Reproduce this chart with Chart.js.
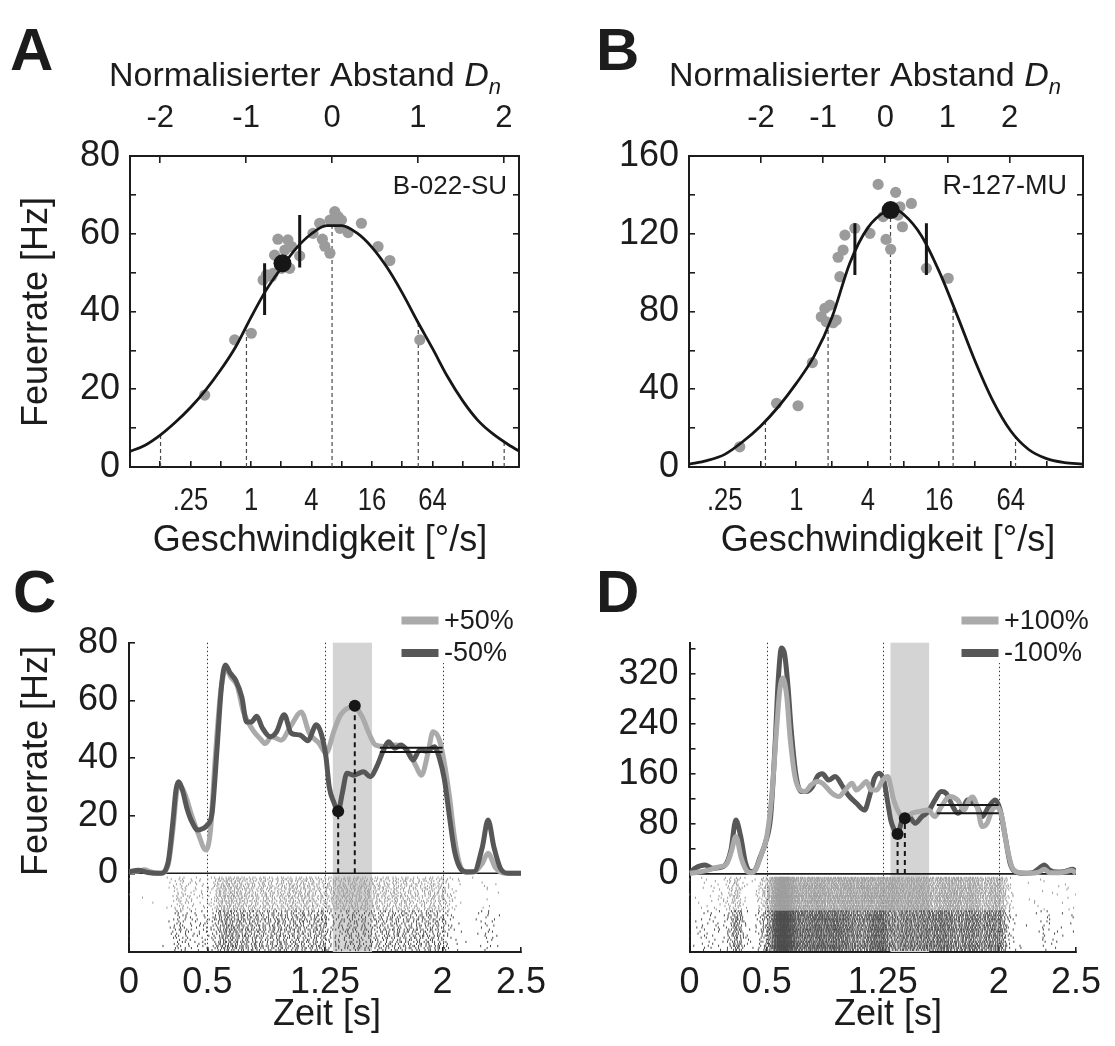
<!DOCTYPE html>
<html>
<head>
<meta charset="utf-8">
<script src="https://cdn.jsdelivr.net/npm/chart.js@4.4.1/dist/chart.umd.min.js"></script>
<style>
  html, body { margin: 0; padding: 0; background: #ffffff; }
  #fig { position: relative; width: 1115px; height: 1046px; overflow: hidden; background: #ffffff; }
  #fig canvas { position: absolute; }
</style>
</head>
<body>
<div id="fig">
  <canvas id="panelA" width="560" height="560" style="left:0px;top:0px"></canvas>
  <canvas id="panelB" width="555" height="560" style="left:560px;top:0px"></canvas>
  <canvas id="panelC" width="560" height="486" style="left:0px;top:560px"></canvas>
  <canvas id="panelD" width="555" height="486" style="left:560px;top:560px"></canvas>
</div>
<script>
// ---------------- Panel A: unit B-022-SU (speed as log2 deg/s) ----------------
const unitA = 'B-022-SU';
const trialOctA  = [-1.53, -0.54, 0.01, 0.40, 0.51, 0.73, 0.78, 0.89, 0.95, 1.12, 1.22, 1.28, 1.34, 1.61, 2.05, 2.27,
                    2.36, 2.44, 2.61, 2.61, 2.77, 2.83, 2.94, 2.99, 3.21, 3.65, 4.20, 4.59, 5.58, 2.88, 1.01, 0.68];
const trialRateA = [18.5, 32.7, 34.4, 48.1, 49.4, 49.8, 54.5, 58.6, 52.4, 55.8, 58.4, 51.1, 56.7, 54.3, 60.1, 62.7,
                    58.6, 56.8, 55.0, 63.5, 65.7, 63.1, 61.4, 63.5, 60.3, 62.7, 56.7, 53.1, 32.7, 64.4, 51.1, 49.0];
const fitOctA  = [-4, -3.5, -3, -2.5, -2, -1.5, -1, -0.5, 0, 0.5, 1, 1.5, 2, 2.5, 3, 3.5, 4, 4.5, 5, 5.5, 6, 6.5, 7, 7.5, 8, 8.5, 9];
const fitRateA = [4.0, 5.6, 8.2, 11.5, 15.3, 19.8, 25.0, 31.0, 38.5, 45.5, 51.2, 56.3, 60.0, 62.1, 62.1, 60.2, 56.5, 51.3,
                  44.8, 37.5, 30.5, 23.2, 17.0, 12.0, 8.5, 5.8, 3.5];
const dashOctA = [-2.99, -0.15, 2.68, 5.53, 8.37];
const dashTopA = [8.3, 36.5, 62.2, 37.3, 6.6];
const barOctA  = [0.45, 1.61];
const barLowA  = [39.1, 51.3];
const barHighA = [52.4, 64.8];
const prefOctA  = [1.04];
const prefRateA = [52.4];
const dnZeroOctA = 2.68, octPerDnA = 2.84;
const octMinA = -4, octMaxA = 8.86;

// ---------------- Panel B: unit R-127-MU ----------------
const unitB = 'R-127-MU';
const trialOctB  = [-1.58, -0.55, 0.05, 0.45, 0.70, 0.80, 0.94, 0.84, 1.03, 1.12, 1.22, 1.17, 1.31, 1.36, 1.64, 2.06,
                    2.29, 2.43, 2.51, 2.64, 2.78, 2.90, 2.85, 2.97, 3.22, 3.64, 4.25];
const trialRateB = [10.4, 32.8, 31.5, 53.7, 77.3, 81.6, 83.3, 74.7, 74.2, 75.6, 97.9, 107.9, 111.6, 119.3, 122.8, 120.2,
                    145.4, 128.8, 117.1, 112.0, 141.3, 133.9, 129.6, 123.6, 135.6, 102.2, 97.1];
const fitOctB  = [-3, -2.5, -2, -1.5, -1, -0.5, 0, 0.5, 1, 1.5, 2, 2.5, 2.75, 3, 3.5, 4, 4.5, 5, 5.5, 6, 6.5, 7, 7.5, 8];
const fitRateB = [1.5, 3.3, 6.5, 13.0, 21.0, 31.0, 43.0, 57.0, 77.0, 105.0, 123.0, 131.5, 132.5, 130.0, 119.0, 100.5,
                  78.0, 54.5, 34.0, 18.5, 9.0, 4.3, 2.3, 1.5];
const dashOctB = [-0.862, 0.89, 2.636, 4.387, 6.133];
const dashTopB = [23.5, 73.5, 132.5, 83.0, 16.0];
const barOctB  = [1.64, 3.64];
const barLowB  = [98.8, 98.8];
const barHighB = [125.4, 125.4];
const prefOctB  = [2.64];
const prefRateB = [132.2];
const dnZeroOctB = 2.49, octPerDnB = 1.739;
const octMinB = -3, octMaxB = 8.02;

// speed tick labels (log2 deg/s -> label)
const speedTickOct = [-2, 0, 2, 4, 6];
const speedTickText = ['.25', '1', '4', '16', '64'];
const dnTicks = [-2, -1, 0, 1, 2];

// ---------------- Panel C: +50% / -50% ----------------
const labelsC = ['+50%', '-50%'];
const tPlusC = [0, 0.06, 0.10, 0.14, 0.20, 0.25, 0.28, 0.31, 0.33, 0.363, 0.40, 0.44, 0.49, 0.52, 0.55, 0.585, 0.62, 0.65,
                0.69, 0.73, 0.79, 0.84, 0.868, 0.91, 0.97, 1.035, 1.098, 1.15, 1.214, 1.256, 1.309, 1.35, 1.435, 1.487,
                1.53, 1.571, 1.624, 1.70, 1.75, 1.79, 1.832, 1.865, 1.907, 1.939, 1.98, 2.012, 2.044, 2.075, 2.107,
                2.15, 2.20, 2.254, 2.29, 2.336, 2.40, 2.5];
const rPlusC = [0.5, 0.8, 1.2, 0.5, 0, 3, 15, 29.5, 30, 26.6, 20, 14, 8.1, 15, 40, 63, 71, 68, 65, 56, 49.7, 46.5, 45,
                47.4, 46.2, 51.4, 56, 48.6, 45, 41.6, 49.7, 55, 57.8, 54.3, 48.6, 44.5, 44, 44.5, 44, 41.6, 37, 34, 41.7,
                49.1, 46.2, 38, 26.6, 12.7, 3.5, 0.3, 0.5, 3.5, 7, 2, 0, 0];
const tMinusC = [0, 0.06, 0.12, 0.20, 0.25, 0.28, 0.30, 0.315, 0.34, 0.37, 0.40, 0.44, 0.47, 0.50, 0.53, 0.56, 0.59, 0.615,
                 0.645, 0.68, 0.72, 0.75, 0.78, 0.815, 0.85, 0.90, 0.94, 0.99, 1.035, 1.09, 1.14, 1.195, 1.225, 1.256,
                 1.277, 1.309, 1.334, 1.36, 1.39, 1.435, 1.465, 1.496, 1.539, 1.58, 1.624, 1.655, 1.697, 1.735, 1.77,
                 1.812, 1.854, 1.90, 1.948, 1.98, 2.012, 2.044, 2.075, 2.107, 2.15, 2.20, 2.254, 2.29, 2.327, 2.369,
                 2.42, 2.5];
const rMinusC = [0.5, 1.1, 0.3, 0, 4, 18, 29, 31.8, 29, 22.5, 18, 15, 15.5, 16.8, 21, 42, 65, 72.3, 69.5, 67, 61, 52.5,
                 52.5, 54.5, 50.5, 47.4, 49, 55, 48.6, 48, 46, 51.5, 48.6, 40.5, 30, 24.3, 21.5, 27.7, 34.7, 34, 34.7,
                 35.2, 33.5, 37, 42.8, 45.6, 43.4, 44.5, 42.8, 39.3, 42.8, 42.4, 43.9, 39.9, 32.4, 19.6, 8.1, 2.3, 0.5,
                 0.5, 9.2, 18.5, 9.2, 1.7, 0, 0];
const meanSpanC = [1.6, 2.0];
const meanPlusC = 43.6, meanMinusC = 42.1;
const markPlusC = { t: 1.44, r: 58.1 };
const markMinusC = { t: 1.334, r: 21.5 };

// ---------------- Panel D: +100% / -100% ----------------
const labelsD = ['+100%', '-100%'];
const tPlusD = [0, 0.06, 0.12, 0.183, 0.24, 0.27, 0.30, 0.335, 0.37, 0.40, 0.43, 0.47, 0.50, 0.532, 0.563, 0.584, 0.604,
                0.629, 0.65, 0.682, 0.714, 0.745, 0.788, 0.827, 0.86, 0.922, 0.966, 1.009, 1.051, 1.08, 1.11, 1.144,
                1.175, 1.21, 1.25, 1.282, 1.302, 1.315, 1.357, 1.393, 1.439, 1.49, 1.545, 1.587, 1.629, 1.682, 1.735,
                1.777, 1.808, 1.83, 1.861, 1.893, 1.925, 1.957, 1.989, 2.02, 2.053, 2.085, 2.12, 2.2, 2.26, 2.294, 2.33,
                2.40, 2.474, 2.5];
const rPlusD = [1, 3, 6, 10.7, 16, 35, 60, 25, 5, 2, 8, 35, 60, 124, 230, 294, 313, 283.7, 219.7, 155.7, 134.4, 131.7,
                142.4, 147.7, 145, 129, 123.7, 134.4, 145, 134, 139.7, 147.7, 134, 134, 150, 155.7, 139.7, 123.7, 97, 89,
                97, 100, 102, 91.7, 107.7, 123.7, 118, 102, 118, 123, 107.7, 75.7, 81, 102, 107.7, 91.7, 43.7, 11.7, 3, 1,
                3, 7.5, 2, 2, 5.3, 1];
const tMinusD = [0, 0.035, 0.10, 0.15, 0.225, 0.268, 0.30, 0.331, 0.363, 0.394, 0.42, 0.458, 0.49, 0.525, 0.553, 0.574,
                 0.595, 0.616, 0.637, 0.658, 0.69, 0.722, 0.755, 0.796, 0.827, 0.859, 0.901, 0.943, 0.985, 1.027, 1.08,
                 1.132, 1.164, 1.196, 1.227, 1.259, 1.285, 1.302, 1.325, 1.346, 1.376, 1.418, 1.46, 1.503, 1.545, 1.587,
                 1.629, 1.66, 1.703, 1.735, 1.77, 1.798, 1.83, 1.861, 1.893, 1.936, 1.978, 2.01, 2.042, 2.074, 2.105,
                 2.16, 2.22, 2.262, 2.294, 2.33, 2.38, 2.43, 2.48, 2.5];
const rMinusD = [1, 9, 14.4, 9, 12.8, 38, 86, 60, 17, 3.7, 5, 27.7, 49, 91.7, 203.7, 310, 361, 350, 300, 230, 155.7, 131.7,
                 131.7, 139.7, 155.7, 160, 150, 155.7, 142, 126, 113, 102, 123.7, 153, 161, 147.7, 110, 86, 70, 64, 86,
                 91.7, 81, 91.7, 99.7, 118, 131.7, 129, 107.7, 97, 105, 118, 115, 107.7, 91.7, 107.7, 118, 102, 60, 17,
                 3.7, 1, 2, 9, 14.4, 6, 3, 4, 7.5, 3];
const meanSpanD = [1.6, 2.0];
const meanPlusD = 97, meanMinusD = 110;
const markPlusD = { t: 1.393, r: 89 };
const markMinusD = { t: 1.346, r: 64 };

// shared time markers
const epochTimes = [0.5, 1.25, 2.0];
const probeWindow = [1.3, 1.55];
const timeTicks = [0, 0.5, 1.25, 2, 2.5];
const timeTickText = ['0', '0.5', '1.25', '2', '2.5'];

// ---------------- styling ----------------
const FONT = "'Liberation Sans', Arial, Helvetica, sans-serif";
const INK = '#1c1c1c';
const LIGHT = '#aaaaaa';
const DARK = '#575757';
const DOT_GRAY = '#9b9b9b';

Chart.defaults.font.family = FONT;
Chart.defaults.color = INK;

const pts = (xs, ys) => xs.map((x, i) => ({ x, y: ys[i] }));
const setTicks = vals => s => { s.ticks = vals.map(v => ({ value: v })); };
function segments(xs, lows, highs) {
  const out = [];
  xs.forEach((x, i) => { out.push({ x, y: lows[i] }, { x, y: highs[i] }, { x, y: null }); });
  return out;
}
function axisGrid(len) {
  return { display: true, drawOnChartArea: false, drawTicks: true, tickLength: len, color: INK, lineWidth: 1.6 };
}
const axisBorder = { display: true, color: INK, width: 2 };

// text drawing helper
function textPlugin(id, items) {
  return {
    id,
    afterDraw(chart) {
      const ctx = chart.ctx;
      items.forEach(it => {
        ctx.save();
        ctx.fillStyle = INK;
        if (it.parts) {
          let w = 0;
          it.parts.forEach(p => { ctx.font = p.font; w += ctx.measureText(p.text).width; });
          let x = it.x - w / 2;
          ctx.textBaseline = 'alphabetic';
          ctx.textAlign = 'left';
          it.parts.forEach(p => { ctx.font = p.font; ctx.fillText(p.text, x, it.y + (p.dy || 0)); x += ctx.measureText(p.text).width; });
        } else {
          ctx.font = it.font;
          ctx.textAlign = it.align || 'center';
          ctx.textBaseline = it.baseline || 'middle';
          ctx.translate(it.x, it.y);
          if (it.rotate) ctx.rotate(it.rotate);
          ctx.fillText(it.text, 0, 0);
        }
        ctx.restore();
      });
    }
  };
}

// condensed speed labels under the bottom axis, placed by the axis itself
const speedLabelPlugin = {
  id: 'speedLabels',
  afterDraw(chart) {
    const { ctx, scales: { x }, chartArea: a } = chart;
    ctx.save();
    ctx.fillStyle = INK;
    ctx.font = `32px ${FONT}`;
    ctx.textAlign = 'center';
    ctx.textBaseline = 'middle';
    speedTickOct.forEach((u, i) => {
      const px = x.getPixelForValue(u);
      ctx.save();
      ctx.translate(px, a.bottom + 34);
      ctx.scale(0.8, 1);
      ctx.fillText(speedTickText[i], 0, 0);
      ctx.restore();
    });
    ctx.restore();
  }
};

function dnTitle(cx) {
  return { x: cx, y: 86, parts: [
    { text: 'Normalisierter Abstand ', font: `34px ${FONT}` },
    { text: 'D', font: `italic 34px ${FONT}` },
    { text: 'n', font: `italic 22px ${FONT}`, dy: 8 }
  ] };
}

// ---------------- tuning curve panels ----------------
function tuningChart(canvasId, d) {
  const dnMin = (d.octMin - d.dnZero) / d.octPerDn;
  const dnMax = (d.octMax - d.dnZero) / d.octPerDn;
  return new Chart(document.getElementById(canvasId), {
    type: 'scatter',
    data: {
      datasets: [
        { type: 'scatter', data: pts(d.prefOct, d.prefRate), backgroundColor: '#161616', borderWidth: 0,
          pointRadius: 9, order: 0 },
        { type: 'line', data: segments(d.barOct, d.barLow, d.barHigh), borderColor: '#161616', borderWidth: 3,
          pointRadius: 0, tension: 0, spanGaps: false, order: 1 },
        { type: 'line', data: pts(d.fitOct, d.fitRate), borderColor: '#161616', borderWidth: 2.8,
          pointRadius: 0, cubicInterpolationMode: 'monotone', order: 2 },
        { type: 'scatter', data: pts(d.trialOct, d.trialRate), backgroundColor: DOT_GRAY, borderWidth: 0,
          pointRadius: 5.6, order: 3 },
        { type: 'line', data: segments(d.dashOct, d.dashOct.map(() => 0), d.dashTop), borderColor: '#4a4a4a',
          borderWidth: 1.2, borderDash: [4, 3], pointRadius: 0, tension: 0, spanGaps: false, order: 4 }
      ]
    },
    options: {
      responsive: false, animation: false, devicePixelRatio: 1, events: [],
      layout: { padding: 0 },
      plugins: { legend: { display: false }, tooltip: { enabled: false } },
      scales: {
        x: {
          type: 'linear', position: 'bottom', min: d.octMin, max: d.octMax,
          afterBuildTicks: setTicks(d.octTicks),
          afterFit: s => { s.height = d.bottomH; },
          grid: axisGrid(-6), border: axisBorder,
          ticks: { display: false }
        },
        xDn: {
          type: 'linear', position: 'top', min: dnMin, max: dnMax,
          afterBuildTicks: setTicks(dnTicks),
          afterFit: s => { s.height = 156; },
          grid: axisGrid(-7), border: axisBorder,
          ticks: { padding: 26, autoSkip: false, maxRotation: 0, color: INK, font: { size: 31 },
                   callback: v => String(v) }
        },
        y: {
          type: 'linear', position: 'left', min: 0, max: d.yMax,
          afterBuildTicks: setTicks(d.yMinor),
          afterFit: s => { s.width = d.leftW; },
          grid: axisGrid(-6), border: axisBorder,
          ticks: { padding: 16, autoSkip: false, color: INK, font: { size: 36 },
                   callback: v => (v % d.yLabelStep === 0 ? String(v) : '') }
        },
        yR: {
          type: 'linear', position: 'right', min: 0, max: d.yMax,
          afterBuildTicks: setTicks(d.yMinor),
          afterFit: s => { s.width = d.rightW; },
          grid: axisGrid(-6), border: axisBorder,
          ticks: { display: false }
        }
      }
    },
    plugins: [speedLabelPlugin, textPlugin('texts' + canvasId, d.texts)]
  });
}

tuningChart('panelA', {
  prefOct: prefOctA, prefRate: prefRateA, barOct: barOctA, barLow: barLowA, barHigh: barHighA,
  fitOct: fitOctA, fitRate: fitRateA, trialOct: trialOctA, trialRate: trialRateA,
  dashOct: dashOctA, dashTop: dashTopA,
  octMin: octMinA, octMax: octMaxA, dnZero: dnZeroOctA, octPerDn: octPerDnA,
  octTicks: [-3, -2, -1, 0, 1, 2, 3, 4, 5, 6, 7, 8],
  yMax: 80, yMinor: [0, 10, 20, 30, 40, 50, 60, 70, 80], yLabelStep: 20,
  leftW: 130, rightW: 41, bottomH: 93,
  texts: [
    { text: 'A', x: 10, y: 70, font: `bold 60px ${FONT}`, align: 'left', baseline: 'alphabetic' },
    dnTitle(305),
    { text: unitA, x: 507, y: 187, font: `26px ${FONT}`, align: 'right' },
    { text: 'Feuerrate [Hz]', x: 37, y: 312, font: `36px ${FONT}`, rotate: -Math.PI / 2 },
    { text: 'Geschwindigkeit [°/s]', x: 320, y: 541, font: `36px ${FONT}` }
  ]
});

tuningChart('panelB', {
  prefOct: prefOctB, prefRate: prefRateB, barOct: barOctB, barLow: barLowB, barHigh: barHighB,
  fitOct: fitOctB, fitRate: fitRateB, trialOct: trialOctB, trialRate: trialRateB,
  dashOct: dashOctB, dashTop: dashTopB,
  octMin: octMinB, octMax: octMaxB, dnZero: dnZeroOctB, octPerDn: octPerDnB,
  octTicks: [-2, -1, 0, 1, 2, 3, 4, 5, 6, 7],
  yMax: 160, yMinor: [0, 20, 40, 60, 80, 100, 120, 140, 160], yLabelStep: 40,
  leftW: 129, rightW: 32, bottomH: 93,
  texts: [
    { text: 'B', x: 36, y: 70, font: `bold 60px ${FONT}`, align: 'left', baseline: 'alphabetic' },
    dnTitle(305),
    { text: unitB, x: 507, y: 187, font: `27px ${FONT}`, align: 'right' },
    { text: 'Geschwindigkeit [°/s]', x: 328, y: 541, font: `36px ${FONT}` }
  ]
});

// ---------------- rate trace panels ----------------
function frac(v) { return v - Math.floor(v); }
function rateAt(ts, rs, t) {
  if (t <= ts[0]) return rs[0];
  for (let i = 1; i < ts.length; i++) {
    if (t <= ts[i]) { const f = (t - ts[i - 1]) / (ts[i] - ts[i - 1]); return rs[i - 1] + f * (rs[i] - rs[i - 1]); }
  }
  return rs[rs.length - 1];
}
// spike rows under each trace: every row follows that trace's rate, with its own phase
function spikeRows(ts, rs, nRows, yHi, yLo, phase) {
  const out = [];
  const step = 0.0005;
  for (let r = 0; r < nRows; r++) {
    const y = yHi - (r + 0.5) * (yHi - yLo) / nRows;
    const gain = 0.8 + 0.4 * frac((r + phase) * 0.618034);
    let acc = frac((r + phase) * 0.754878);
    let k = 0;
    let need = 0.35 + 1.3 * frac(r * 0.414214 + phase * 0.1);
    for (let t = 0; t <= 2.5; t += step) {
      acc += Math.max(0, rateAt(ts, rs, t)) * gain * step;
      if (acc >= need) {
        out.push({ x: t, y });
        acc -= need; k++;
        need = 0.35 + 1.3 * frac(k * 0.618034 + r * 0.414214 + phase * 0.1);
      }
    }
  }
  return out;
}

function bandPlugin(id) {
  return {
    id,
    beforeDatasetsDraw(chart) {
      const { ctx, chartArea: a, scales: { x } } = chart;
      ctx.save();
      ctx.fillStyle = '#d4d4d4';
      const x0 = x.getPixelForValue(probeWindow[0]), x1 = x.getPixelForValue(probeWindow[1]);
      ctx.fillRect(x0, a.top, x1 - x0, a.bottom - a.top);
      ctx.strokeStyle = '#3a3a3a';
      ctx.lineWidth = 1;
      ctx.setLineDash([1.5, 2.5]);
      epochTimes.forEach(t => {
        const px = Math.round(x.getPixelForValue(t)) + 0.5;
        ctx.beginPath(); ctx.moveTo(px, a.top); ctx.lineTo(px, a.bottom); ctx.stroke();
      });
      ctx.restore();
    }
  };
}

function legendPlugin(id) {
  return {
    id,
    afterDraw(chart) {
      const ctx = chart.ctx;
      const ds = chart.data.datasets.filter(d => d.legendSwatch);
      ctx.save();
      ctx.fillStyle = '#ffffff';
      ctx.fillRect(396, 42, 130, 61);
      ds.forEach((d, i) => {
        const cy = 60.5 + i * 32.5;
        ctx.fillStyle = d.borderColor;
        ctx.fillRect(401.5, cy - 4, 37, 8);
        ctx.fillStyle = INK;
        ctx.font = `27px ${FONT}`;
        ctx.textAlign = 'left';
        ctx.textBaseline = 'middle';
        ctx.fillText(d.label, 444, cy + 1);
      });
      ctx.restore();
    }
  };
}

function traceChart(canvasId, d) {
  const lightRows = spikeRows(d.tPlus, d.rPlus, 20, d.rowsLight[0], d.rowsLight[1], 0.3);
  const darkRows = spikeRows(d.tMinus, d.rMinus, 20, d.rowsDark[0], d.rowsDark[1], 0.7);
  const drops = segments([d.markMinus.t, d.markPlus.t], [0, 0], [d.markMinus.r, d.markPlus.r]);
  const means = [
    { x: d.meanSpan[0], y: d.meanPlus }, { x: d.meanSpan[1], y: d.meanPlus }, { x: d.meanSpan[1], y: null },
    { x: d.meanSpan[0], y: d.meanMinus }, { x: d.meanSpan[1], y: d.meanMinus }
  ];
  return new Chart(document.getElementById(canvasId), {
    type: 'scatter',
    data: {
      datasets: [
        { type: 'scatter', data: [{ x: d.markMinus.t, y: d.markMinus.r }, { x: d.markPlus.t, y: d.markPlus.r }],
          backgroundColor: '#161616', borderWidth: 0, pointRadius: 6, order: 0 },
        { type: 'line', data: drops, borderColor: '#161616', borderWidth: 2, borderDash: [5, 4], pointRadius: 0,
          tension: 0, spanGaps: false, order: 1 },
        { type: 'line', data: means, borderColor: '#161616', borderWidth: 2, pointRadius: 0, tension: 0,
          spanGaps: false, order: 2 },
        { type: 'line', label: d.labels[0], legendSwatch: true, data: pts(d.tPlus, d.rPlus), borderColor: LIGHT,
          borderWidth: 5, pointRadius: 0, cubicInterpolationMode: 'monotone', order: d.lightOnTop ? 3 : 4 },
        { type: 'line', label: d.labels[1], legendSwatch: true, data: pts(d.tMinus, d.rMinus), borderColor: DARK,
          borderWidth: 5, pointRadius: 0, cubicInterpolationMode: 'monotone', order: d.lightOnTop ? 4 : 3 },
        { type: 'line', data: [{ x: 0, y: 0 }, { x: 2.5, y: 0 }], borderColor: INK, borderWidth: 1.6,
          pointRadius: 0, order: 5 },
        { type: 'scatter', data: lightRows, pointStyle: 'line', pointRotation: 90, pointRadius: 1.1,
          borderColor: '#9d9d9d', pointBorderColor: '#9d9d9d', pointBorderWidth: 1, order: 6 },
        { type: 'scatter', data: darkRows, pointStyle: 'line', pointRotation: 90, pointRadius: 1.1,
          borderColor: '#4b4b4b', pointBorderColor: '#4b4b4b', pointBorderWidth: 1, order: 7 }
      ]
    },
    options: {
      responsive: false, animation: false, devicePixelRatio: 1, events: [],
      layout: { padding: { top: 82.7, right: d.rightPad, left: 0, bottom: 0 } },
      plugins: { legend: { display: false }, tooltip: { enabled: false } },
      scales: {
        x: {
          type: 'linear', position: 'bottom', min: 0, max: 2.5,
          afterBuildTicks: setTicks(timeTicks),
          afterFit: s => { s.height = 94; },
          grid: axisGrid(-5), border: axisBorder,
          ticks: { padding: 14, autoSkip: false, maxRotation: 0, color: INK, font: { size: 36 },
                   callback: v => { const i = timeTicks.indexOf(v); return i >= 0 ? timeTickText[i] : ''; } }
        },
        y: {
          type: 'linear', position: 'left', min: d.yMin, max: d.yMax,
          afterBuildTicks: setTicks(d.yMinor),
          afterFit: s => { s.width = d.leftW; },
          grid: axisGrid(-6), border: axisBorder,
          ticks: { padding: 17, autoSkip: false, color: INK, font: { size: 36 },
                   callback: v => (v % d.yLabelStep === 0 ? String(v) : '') }
        }
      }
    },
    plugins: [bandPlugin('band' + canvasId), legendPlugin('legend' + canvasId), textPlugin('texts' + canvasId, d.texts)]
  });
}

traceChart('panelC', {
  labels: labelsC, tPlus: tPlusC, rPlus: rPlusC, tMinus: tMinusC, rMinus: rMinusC,
  markPlus: markPlusC, markMinus: markMinusC, meanSpan: meanSpanC, meanPlus: meanPlusC, meanMinus: meanMinusC,
  rowsLight: [-1.2, -12.8], rowsDark: [-12.8, -27.0],
  yMin: -27.3, yMax: 80, yMinor: [0, 20, 40, 60, 80], yLabelStep: 20,
  leftW: 129, rightPad: 34.3, lightOnTop: false,
  texts: [
    { text: 'C', x: 13, y: 52, font: `bold 60px ${FONT}`, align: 'left', baseline: 'alphabetic' },
    { text: 'Feuerrate [Hz]', x: 37, y: 201, font: `36px ${FONT}`, rotate: -Math.PI / 2 },
    { text: 'Zeit [s]', x: 327, y: 455, font: `36px ${FONT}` }
  ]
});

traceChart('panelD', {
  labels: labelsD, tPlus: tPlusD, rPlus: rPlusD, tMinus: tMinusD, rMinus: rMinusD,
  markPlus: markPlusD, markMinus: markMinusD, meanSpan: meanSpanD, meanPlus: meanPlusD, meanMinus: meanMinusD,
  rowsLight: [-5, -58], rowsDark: [-58, -123],
  yMin: -124.8, yMax: 369.6, yMinor: [0, 40, 80, 120, 160, 200, 240, 280, 320, 360], yLabelStep: 80,
  leftW: 129.5, rightPad: 30.75, lightOnTop: true,
  texts: [
    { text: 'D', x: 36, y: 52, font: `bold 60px ${FONT}`, align: 'left', baseline: 'alphabetic' },
    { text: 'Zeit [s]', x: 328, y: 455, font: `36px ${FONT}` }
  ]
});
</script>
</body>
</html>
